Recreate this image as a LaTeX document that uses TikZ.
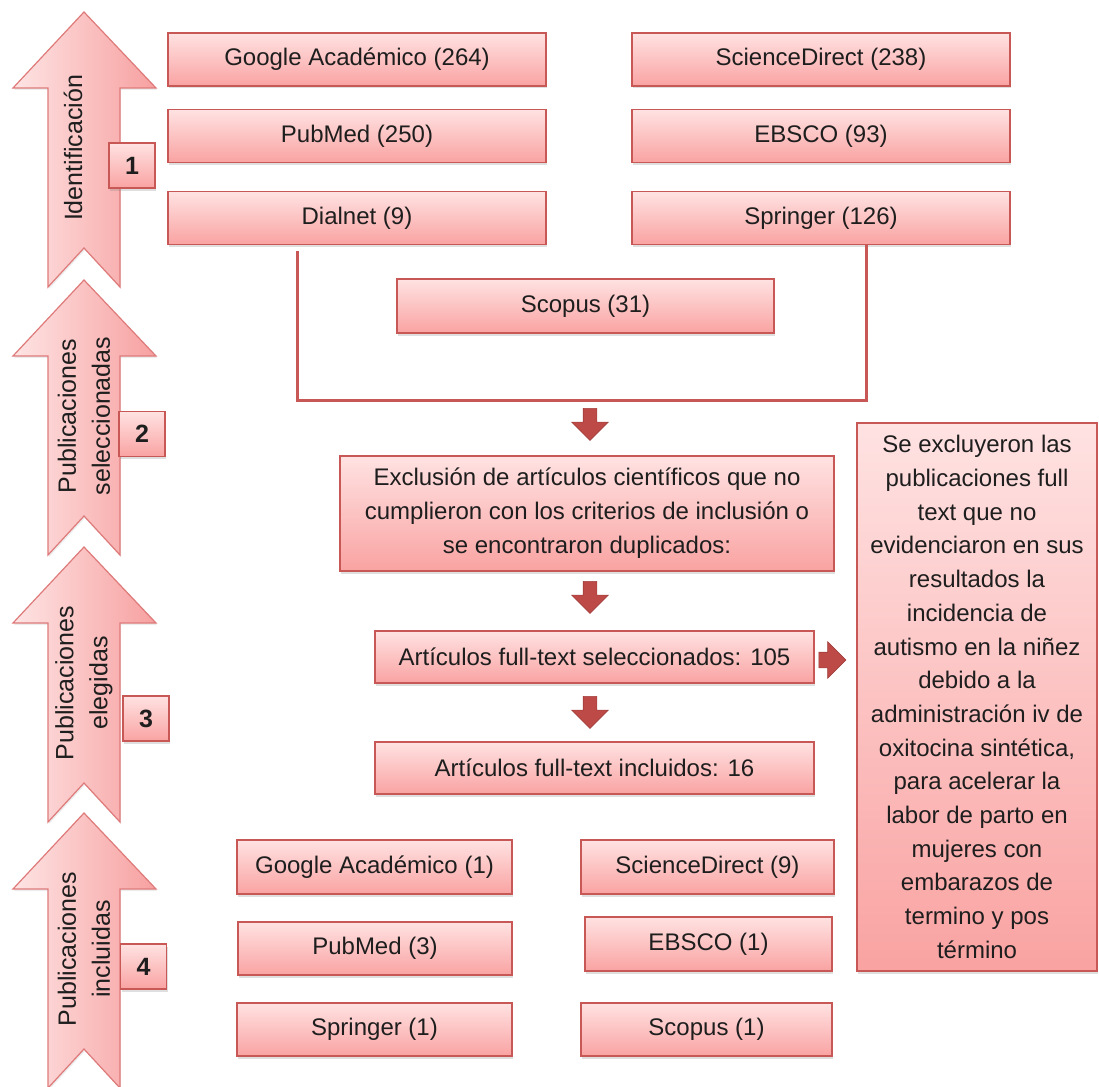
\documentclass[tikz,border=0pt]{standalone}
\usepackage{fontspec}
\setmainfont{Liberation Sans}
\usetikzlibrary{shapes.arrows,shadows}

\definecolor{boxtop}{RGB}{255,226,226}
\definecolor{boxbot}{RGB}{249,163,162}
\definecolor{boxline}{RGB}{200,88,86}
\definecolor{chevleft}{RGB}{254,228,228}
\definecolor{chevright}{RGB}{247,160,160}
\definecolor{chevline}{RGB}{222,122,122}
\definecolor{blkred}{RGB}{190,74,71}
\definecolor{inktext}{RGB}{30,30,30}

\tikzset{
  srcbox/.style={draw=boxline, line width=1.3pt, top color=boxtop, bottom color=boxbot,
    text=inktext, font=\fontsize{24}{34}\selectfont, inner sep=0pt, minimum height=53pt,
    drop shadow={opacity=0.25, shadow xshift=1pt, shadow yshift=-2.5pt}},
  numbox/.style={srcbox, minimum width=46pt, minimum height=45pt, font=\fontsize{25}{25}\selectfont\bfseries},
  phase/.style={draw=chevline, line width=1.2pt, left color=chevleft, right color=chevright,
    drop shadow={opacity=0.15, shadow xshift=1pt, shadow yshift=-2pt}},
  phaselabel/.style={rotate=90, align=center, text=inktext, font=\fontsize{25}{34}\selectfont},
  blkarrow/.style={single arrow, fill=blkred, draw=blkred!85!black, line width=0.6pt,
    inner sep=6.5pt, single arrow head extend=11.5pt, minimum height=32pt, minimum width=0pt},
  bracket/.style={draw=boxline, line width=3pt}
}

\begin{document}
\begin{tikzpicture}[x=1pt,y=-1pt]
\useasboundingbox (0,0) rectangle (1099,1086);
% Phase arrows on the left
\path[phase, shift={(0,12)}] (84,0) -- (156,76) -- (120,76) -- (120,275) -- (84,236) -- (48,275) -- (48,76) -- (13,76) -- cycle;
\path[phase, shift={(0,280)}] (84,0) -- (156,76) -- (120,76) -- (120,275) -- (84,236) -- (48,275) -- (48,76) -- (13,76) -- cycle;
\path[phase, shift={(0,547)}] (84,0) -- (156,76) -- (120,76) -- (120,275) -- (84,236) -- (48,275) -- (48,76) -- (13,76) -- cycle;
\path[phase, shift={(0,813)}] (84,0) -- (156,76) -- (120,76) -- (120,275) -- (84,236) -- (48,275) -- (48,76) -- (13,76) -- cycle;
\node[phaselabel] (ph1) at (73,148) {Identificación};
\node[phaselabel] (ph2) at (84,416) {Publicaciones\\seleccionadas};
\node[phaselabel] (ph3) at (84,683) {Publicaciones\\elegidas};
\node[phaselabel] (ph4) at (84,949) {Publicaciones\\incluidas};
% Step numbers
\node[numbox] (n1) at (132,165.5) {1};
\node[numbox] (n2) at (142,434) {2};
\node[numbox] (n3) at (146,718.5) {3};
\node[numbox] (n4) at (143.5,966.5) {4};
% Databases searched
\node[srcbox, minimum width=378pt] (gA) at (357,59.5) {Google Académico (264)};
\node[srcbox, minimum width=378pt] (sD) at (821,59.5) {ScienceDirect (238)};
\node[srcbox, minimum width=378pt] (pM) at (357,136) {PubMed (250)};
\node[srcbox, minimum width=378pt] (eB) at (821,136) {EBSCO (93)};
\node[srcbox, minimum width=378pt] (dN) at (357,218) {Dialnet (9)};
\node[srcbox, minimum width=378pt] (sP) at (821,218) {Springer (126)};
\node[srcbox, minimum width=377pt, minimum height=54pt] (sC) at (585.5,306) {Scopus (31)};
% Bracket joining the searches
\coordinate (brL) at (297,251);
\coordinate (brR) at (866,245);
\coordinate (brB) at (587,400);
\draw[bracket] (brL) |- (brB) -| (brR);
% Screening
\node[blkarrow, rotate=-90] (dn1) at (590,421) {};
\node[srcbox, minimum width=494pt, minimum height=115pt, align=center] (exC) at (587,513.5)
  {Exclusión de artículos científicos que no\\cumplieron con los criterios de inclusión o\\se encontraron duplicados:};
\node[blkarrow, rotate=-90] (dn2) at (590,594) {};
\node[srcbox, minimum width=439pt, minimum height=52pt] (seL) at (594.5,657) {Artículos full-text seleccionados: 105};
\node[blkarrow, rotate=-90] (dn3) at (590,709) {};
\node[srcbox, minimum width=439pt, minimum height=52pt] (inC) at (594.5,768) {Artículos full-text incluidos: 16};
\node[blkarrow, minimum height=27pt, inner ysep=7.5pt, single arrow head extend=10.5pt] (rt) at (828.5,660) {};
\node[srcbox, minimum width=240pt, minimum height=548pt, align=center, font=\fontsize{24}{33.7}\selectfont] (rB) at (977,697)
  {Se excluyeron las\\publicaciones full\\text que no\\evidenciaron en sus\\resultados la\\incidencia de\\autismo en la niñez\\debido a la\\administración iv de\\oxitocina sintética,\\para acelerar la\\labor de parto en\\mujeres con\\embarazos de\\termino y pos\\término};
% Included publications
\node[srcbox, minimum width=275pt, minimum height=54pt] (gA1) at (374.5,867) {Google Académico (1)};
\node[srcbox, minimum width=253pt, minimum height=54pt] (sD9) at (707.5,867) {ScienceDirect (9)};
\node[srcbox, minimum width=274pt, minimum height=53pt] (pM3) at (375,948.5) {PubMed (3)};
\node[srcbox, minimum width=247pt, minimum height=54pt] (eB1) at (708.5,944) {EBSCO (1)};
\node[srcbox, minimum width=275pt, minimum height=53pt] (sP1) at (374.5,1029.5) {Springer (1)};
\node[srcbox, minimum width=251pt, minimum height=53pt] (sC1) at (706.5,1029.5) {Scopus (1)};
\end{tikzpicture}
\end{document}
